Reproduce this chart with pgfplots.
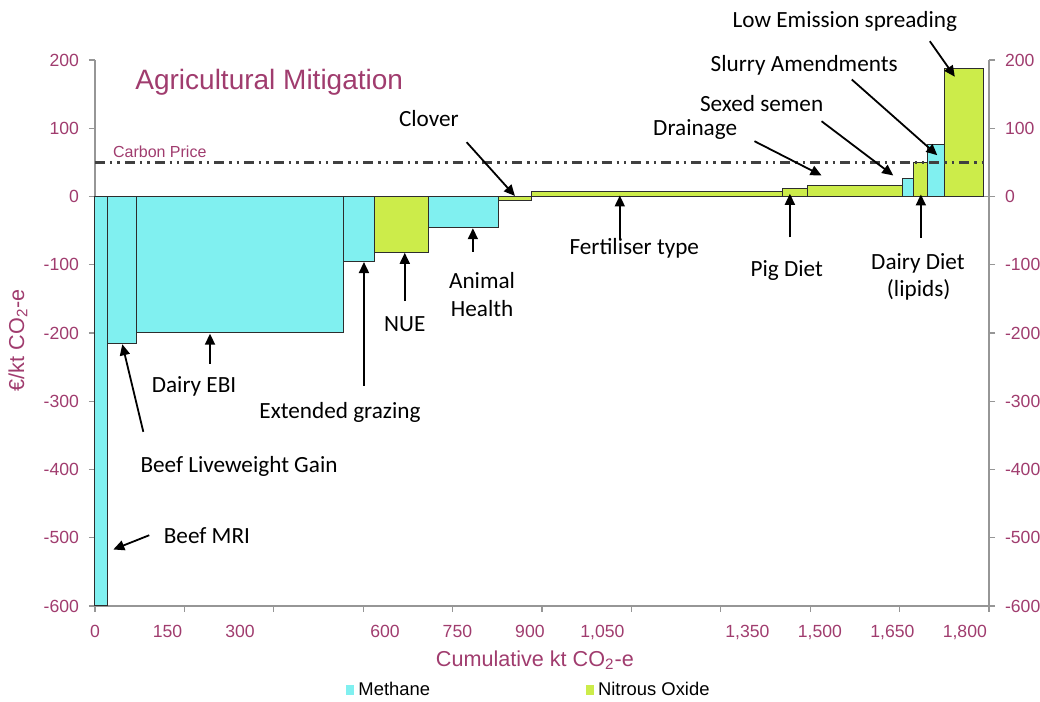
\documentclass[border=0pt]{standalone}
\usepackage{fontspec}
\setmainfont{Liberation Sans}
\newfontfamily\calibri{Carlito}
\usepackage{pgfplots}
\pgfplotsset{compat=1.18}
\usetikzlibrary{arrows.meta}
\definecolor{tpurple}{RGB}{160,60,110}
\definecolor{methane}{RGB}{128,240,240}
\definecolor{nitrous}{RGB}{204,236,74}
\definecolor{axisgrey}{RGB}{150,150,150}
\definecolor{carbon}{RGB}{64,64,64}
\definecolor{barline}{RGB}{45,45,45}
\tikzset{
  ann/.style={font=\calibri\fontsize{11.6}{14}\selectfont, text=black, anchor=base, inner sep=0pt},
  arr/.style={-{Triangle[length=5.5pt,width=5pt]}, line width=0.9pt, black},
}
\pgfplotsset{
  mbar/.style={fill=methane, draw=barline, line width=0.5pt, forget plot},
  nbar/.style={fill=nitrous, draw=barline, line width=0.5pt, forget plot},
  common/.style={
    at={(47.5pt,48pt)}, anchor=south west,
    scale only axis, width=447pt, height=273pt,
    xmin=0, xmax=1850, ymin=-600, ymax=200,
    axis line style={draw=axisgrey, line width=0.6pt},
    tick style={draw=axisgrey, line width=0.6pt},
    tick align=outside, major tick length=3pt,
    ytick={-600,-500,-400,-300,-200,-100,0,100,200},
    yticklabels={-600,-500,-400,-300,-200,-100,0,100,200},
    tick label style={font=\fontsize{8.8}{10}\selectfont, text=tpurple},
    /pgf/number format/assume math mode=true,
    clip=false,
  },
}
\begin{document}
\begin{tikzpicture}
\begin{axis}[common,
  axis x line*=bottom, axis y line*=left,
  xtick={0,185,370,555,740,925,1110,1295,1480,1665,1850},
  xticklabels={},
  extra x ticks={0,150,300,600,750,900,1050,1350,1500,1650,1800},
  extra x tick labels={0,150,300,600,750,900,{1,050},{1,350},{1,500},{1,650},{1,800}},
  extra x tick style={major tick length=0pt, tick label style={yshift=-6pt}},
  yticklabel style={xshift=-1.5pt},
  xlabel={Cumulative kt CO\textsubscript{2}-e},
  ylabel={€/kt CO\textsubscript{2}-e},
  xlabel style={at={(axis description cs:0.492,-0.099)}, anchor=center, font=\fontsize{10.8}{12}\selectfont, text=tpurple},
  ylabel style={at={(axis description cs:-0.0861,0.487)}, anchor=center, rotate=0, font=\fontsize{10.8}{12}\selectfont, text=tpurple},
  legend style={at={(0.4866,-0.154)}, anchor=center, draw=none, fill=none,
    font=\fontsize{9.2}{11}\selectfont, legend columns=2,
    /tikz/every even column/.append style={column sep=76pt}},
  legend cell align=left,
  legend image code/.code={\fill[#1, draw=none] (0pt,-2.4pt) rectangle (4pt,2.4pt);},
]
% zero line
\addplot[axisgrey, line width=0.6pt, forget plot] coordinates {(0,0) (1850,0)};
% bars: (x0,0) (x0,y) (x1,y) (x1,0)
\addplot[mbar] coordinates {(0,0) (0,-600) (25,-600) (25,0)} -- cycle;        % Beef MRI
\addplot[mbar] coordinates {(25,0) (25,-215) (86,-215) (86,0)} -- cycle;      % Beef Liveweight Gain
\addplot[mbar] coordinates {(86,0) (86,-200) (514,-200) (514,0)} -- cycle;    % Dairy EBI
\addplot[mbar] coordinates {(514,0) (514,-95) (578,-95) (578,0)} -- cycle;    % Extended grazing
\addplot[nbar] coordinates {(578,0) (578,-82) (690,-82) (690,0)} -- cycle;    % NUE
\addplot[mbar] coordinates {(690,0) (690,-46) (835,-46) (835,0)} -- cycle;    % Animal Health
\addplot[nbar] coordinates {(835,0) (835,-6) (904,-6) (904,0)} -- cycle;      % Clover
\addplot[nbar] coordinates {(904,0) (904,8) (1423,8) (1423,0)} -- cycle;      % Fertiliser type
\addplot[nbar] coordinates {(1423,0) (1423,12) (1474,12) (1474,0)} -- cycle;  % Pig Diet
\addplot[nbar] coordinates {(1474,0) (1474,16) (1671,16) (1671,0)} -- cycle;  % Drainage
\addplot[mbar] coordinates {(1671,0) (1671,27) (1694,27) (1694,0)} -- cycle;  % Sexed semen
\addplot[nbar] coordinates {(1694,0) (1694,50) (1722,50) (1722,0)} -- cycle;  % Dairy Diet (lipids)
\addplot[mbar] coordinates {(1722,0) (1722,76) (1757,76) (1757,0)} -- cycle;  % Slurry Amendments
\addplot[nbar] coordinates {(1757,0) (1757,188) (1838,188) (1838,0)} -- cycle;% Low Emission spreading
% carbon price
\addplot[carbon, line width=1.3pt, dash pattern=on 5pt off 2.5pt on 1.2pt off 2.5pt on 1.2pt off 2.5pt, forget plot] coordinates {(0,50) (1850,50)};
\addlegendimage{fill=methane}
\addlegendentry{Methane}
\addlegendimage{fill=nitrous}
\addlegendentry{Nitrous Oxide}
% texts
\node[anchor=base west, inner sep=0pt, font=\fontsize{14}{16}\selectfont, text=tpurple] at (axis cs:82.8,156.8) {Agricultural Mitigation};
\node[anchor=base west, inner sep=0pt, font=\fontsize{8}{9}\selectfont, text=tpurple] at (axis cs:36.6,56.7) {Carbon Price};
\node[ann] at (axis cs:691,102) {Clover};
\draw[arr] (axis cs:769,79.6) -- (axis cs:869,0.8);
\node[ann] at (axis cs:1116,-85) {Fertiliser type};
\draw[arr] (axis cs:1086,-62) -- (axis cs:1086,1.5);
\node[ann] at (axis cs:1431.6,-116.7) {Pig Diet};
\draw[arr] (axis cs:1438,-60) -- (axis cs:1438,4);
\node[ann] at (axis cs:1242,90) {Drainage};
\draw[arr] (axis cs:1364.7,81) -- (axis cs:1503.5,30.8);
\node[ann] at (axis cs:1379.5,125) {Sexed semen};
\draw[arr] (axis cs:1503.5,110.3) -- (axis cs:1651.8,30.8);
\node[ann] at (axis cs:1467.5,183.6) {Slurry Amendments};
\draw[arr] (axis cs:1566,171.4) -- (axis cs:1743,60.5);
\node[ann] at (axis cs:1551.8,247) {Low Emission spreading};
\draw[arr] (axis cs:1727.6,227.5) -- (axis cs:1779.3,175.4);
\node[ann] at (axis cs:1703,-107) {Dairy Diet};
\node[ann] at (axis cs:1704.5,-146) {(lipids)};
\draw[arr] (axis cs:1709,-60.5) -- (axis cs:1709,3);
\node[ann] at (axis cs:801,-135.2) {Animal};
\node[ann] at (axis cs:801,-176.3) {Health};
\draw[arr] (axis cs:782,-80.6) -- (axis cs:782,-46.5);
\node[ann] at (axis cs:641,-197.8) {NUE};
\draw[arr] (axis cs:641,-153.4) -- (axis cs:641,-82.5);
\node[ann] at (axis cs:507,-325) {Extended grazing};
\draw[arr] (axis cs:556.6,-277) -- (axis cs:556.6,-96);
\node[ann] at (axis cs:205,-286.7) {Dairy EBI};
\draw[arr] (axis cs:238,-245) -- (axis cs:238,-201);
\node[ann] at (axis cs:298,-404.4) {Beef Liveweight Gain};
\draw[arr] (axis cs:100,-344.8) -- (axis cs:56.5,-216.5);
\node[ann] at (axis cs:231.6,-508.4) {Beef MRI};
\draw[arr] (axis cs:112.3,-496.3) -- (axis cs:37.9,-517.2);
\end{axis}
\begin{axis}[common,
  hide x axis,
  axis y line*=right,
  yticklabel style={xshift=1.5pt},
]
\end{axis}
\pgfresetboundingbox
\path[use as bounding box] (0,0) rectangle (520pt,351pt);
\end{tikzpicture}
\end{document}
